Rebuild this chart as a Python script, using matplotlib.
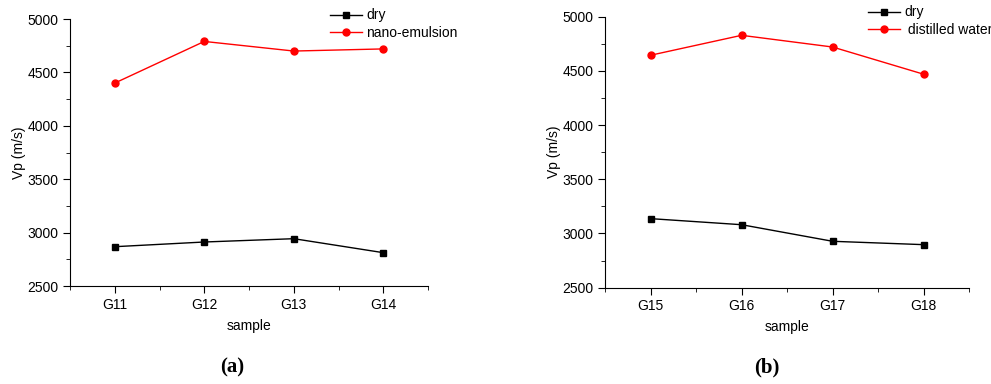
import numpy as np
import matplotlib.pyplot as plt
from matplotlib.ticker import MultipleLocator

plt.rcParams['font.family'] = ['Liberation Sans', 'DejaVu Sans']

# panel (a)
samples_a = ['G11', 'G12', 'G13', 'G14']
dry_a = [2868, 2912, 2943, 2812]
nano = [4400, 4790, 4700, 4720]

# panel (b)
samples_b = ['G15', 'G16', 'G17', 'G18']
dry_b = [3137, 3081, 2928, 2897]
water = [4644, 4828, 4720, 4469]

fig = plt.figure(figsize=(9.91, 3.84), dpi=100)
ax1 = fig.add_axes([0.0706, 0.2552, 0.3614, 0.6953])
ax2 = fig.add_axes([0.6105, 0.2508, 0.3675, 0.7058])

def panel(ax, names, dry, wet, wet_label, leg_xy, tag, tag_x):
    x = np.arange(1, len(names) + 1)
    ax.plot(x, dry, color='black', marker='s', markersize=4.5, lw=1, label='dry')
    ax.plot(x, wet, color='red', marker='o', markersize=5, lw=1, label=wet_label)
    ax.set_xlim(0.5, 4.5)
    ax.set_ylim(2500, 5000)
    ax.set_xticks(x)
    ax.set_xticklabels(names)
    ax.xaxis.set_minor_locator(MultipleLocator(0.5))
    ax.yaxis.set_major_locator(MultipleLocator(500))
    ax.yaxis.set_minor_locator(MultipleLocator(250))
    ax.spines['top'].set_visible(False)
    ax.spines['right'].set_visible(False)
    ax.tick_params(which='major', direction='out', length=5, labelsize=10)
    ax.tick_params(which='minor', direction='out', length=3)
    ax.set_xlabel('sample', fontsize=10, labelpad=5)
    ax.set_ylabel('Vp (m/s)', fontsize=10, labelpad=1)
    ax.legend(loc='upper left', bbox_to_anchor=leg_xy, bbox_transform=fig.transFigure,
              frameon=False, fontsize=10, handlelength=2.3, handletextpad=0.3,
              labelspacing=0.25, borderaxespad=0, borderpad=0)
    fig.text(tag_x, 0.042, tag, ha='center', va='center', fontsize=15,
             fontweight='bold', family='Liberation Serif')

panel(ax1, samples_a, dry_a, nano, 'nano-emulsion', (0.333, 0.978), '(a)', 0.234)
panel(ax2, samples_b, dry_b, water, ' distilled water', (0.876, 0.986), '(b)', 0.774)

fig.savefig('out.png', dpi=100)
